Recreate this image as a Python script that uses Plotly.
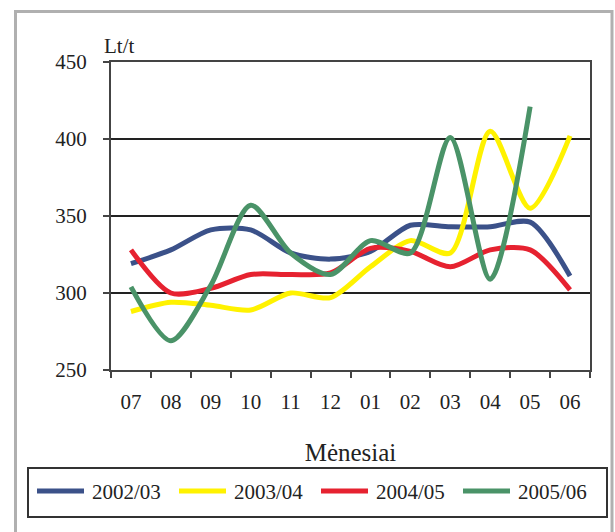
import plotly.graph_objects as go

# months of the marketing year (July..June)
months = ["07", "08", "09", "10", "11", "12", "01", "02", "03", "04", "05", "06"]

s_2002_03 = [319, 328, 341, 341, 326, 322, 327, 344, 343, 343, 346, 311]
s_2003_04 = [288, 294, 292, 289, 300, 297, 317, 334, 326, 405, 355, 402]
s_2004_05 = [328, 300, 303, 312, 312, 313, 329, 327, 317, 328, 328, 302]
s_2005_06 = [304, 269, 305, 357, 326, 312, 334, 326, 401, 309, 421, None]

names = ["2002/03", "2003/04", "2004/05", "2005/06"]
values = [s_2002_03, s_2003_04, s_2004_05, s_2005_06]
colors = ["#3b5189", "#fff200", "#e62230", "#4a9368"]

FONT = "Liberation Serif, Times New Roman, serif"

fig = go.Figure()
for name, vals, col in zip(names, values, colors):
    fig.add_trace(go.Scatter(
        x=months, y=vals, name=name, mode="lines",
        line=dict(color=col, width=5, shape="spline", smoothing=0.8),
        connectgaps=False, showlegend=False,
    ))

W, H = 615, 532
# plot area: x 111..590, y 62..370
L, R, T, B = 111, 615 - 590, 62, 532 - 370
pw, ph = W - L - R, H - T - B

def px(x):
    return (x - L) / pw

def py(y):
    return (H - B - y) / ph

fig.update_layout(
    width=W, height=H,
    margin=dict(l=L, r=R, t=T, b=B),
    paper_bgcolor="white", plot_bgcolor="white",
    font=dict(family=FONT, size=21, color="#222222"),
    xaxis=dict(
        type="category", tickson="boundaries",
        ticks="outside", ticklen=6, tickcolor="#444444", tickwidth=1.5,
        showline=True, linecolor="#444444", linewidth=2, mirror=True,
        showgrid=False, range=[-0.5, 11.5], ticklabelstandoff=12,
        title=dict(text="Mėnesiai", standoff=30),
    ),
    yaxis=dict(
        range=[250, 450], dtick=50,
        ticks="outside", ticklen=6, tickcolor="#444444", tickwidth=1.5,
        showline=True, linecolor="#444444", linewidth=2, mirror=True,
        showgrid=True, gridcolor="#222222", gridwidth=1.5,
        zeroline=False, ticklabelstandoff=12,
    ),
    showlegend=False,
)

fig.add_annotation(
    text="Lt/t", xref="paper", yref="paper", x=px(102), y=py(46),
    xanchor="left", yanchor="middle", showarrow=False,
)

# legend drawn by hand: box, swatches, labels
fig.add_shape(
    type="rect", xref="paper", yref="paper",
    x0=px(28), x1=px(607), y0=py(517), y1=py(468),
    line=dict(color="#333333", width=2), fillcolor="white", layer="below",
)
for i, (name, col) in enumerate(zip(names, colors)):
    x0 = 37 + 142 * i
    fig.add_shape(
        type="line", xref="paper", yref="paper",
        x0=px(x0), x1=px(x0 + 47), y0=py(491), y1=py(491),
        line=dict(color=col, width=5),
    )
    fig.add_annotation(
        text=name, xref="paper", yref="paper", x=px(x0 + 53), y=py(492),
        xanchor="left", yanchor="middle", showarrow=False,
    )

# outer gray frame
fig.add_shape(
    type="rect", xref="paper", yref="paper",
    x0=px(15.5), x1=px(612), y0=py(545), y1=py(11.5),
    line=dict(color="#b0b0b0", width=3), layer="below",
)

# drop the default 8px body margin so the figure fills the window
fig.write_html("out.html", config={"displayModeBar": False},
               post_script="document.body.style.margin='0';")
